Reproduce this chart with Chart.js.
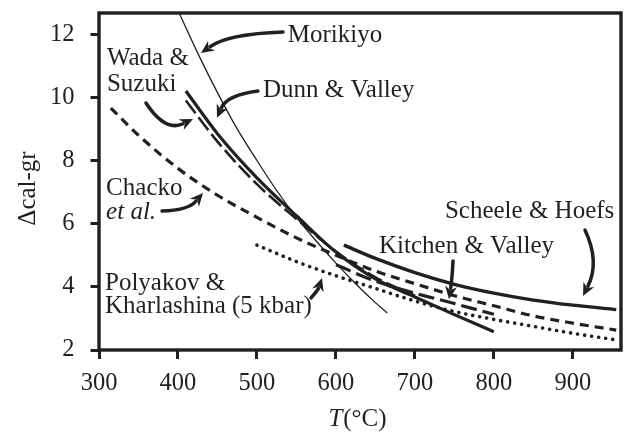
<!DOCTYPE html>
<html>
<head>
<meta charset="utf-8">
<script src="https://cdn.jsdelivr.net/npm/chart.js@4.4.1/dist/chart.umd.min.js"></script>
<style>
  html, body { margin: 0; padding: 0; background: #fff; }
  #wrap { width: 626px; height: 434px; }
</style>
</head>
<body>
<div id="wrap"><canvas id="c" width="626" height="434"></canvas></div>
<script>
const INK = '#231f20';
const SERIF = "'Liberation Serif', 'Times New Roman', serif";

// Axis ticks
const xTicks = [300, 400, 500, 600, 700, 800, 900];
const yTicks = [2, 4, 6, 8, 10, 12];

// Calcite–graphite carbon isotope fractionation calibrations (T in °C, Δ in ‰)
const morikiyoT = [400, 425, 450, 475, 500, 525, 550, 575, 600, 625, 650, 665];
const morikiyoD = [12.75, 11.4, 10.15, 9.0, 8.0, 7.05, 6.2, 5.45, 4.75, 4.1, 3.5, 3.17];

const dunnT = [410, 450, 500, 550, 600, 650, 700, 750, 800];
const dunnD = [10.2, 8.85, 7.45, 6.25, 5.1, 4.25, 3.68, 3.12, 2.58];

const wadaT = [410, 450, 500, 550, 600, 650, 700];
const wadaD = [9.9, 8.6, 7.25, 6.15, 5.12, 4.3, 3.72];

const chackoT = [315, 350, 400, 450, 500, 550, 600, 650, 700, 750, 800, 850, 900, 955];
const chackoD = [9.66, 8.8, 7.75, 6.9, 6.2, 5.55, 5.0, 4.5, 4.1, 3.72, 3.4, 3.08, 2.85, 2.63];

const scheeleT = [610, 650, 700, 750, 800, 850, 900, 955];
const scheeleD = [5.32, 4.9, 4.45, 4.08, 3.8, 3.58, 3.42, 3.28];

const kitchenT = [600, 650, 700, 750, 800];
const kitchenD = [4.7, 4.18, 3.8, 3.47, 3.13];

const polyakovT = [500, 550, 600, 650, 700, 750, 800, 850, 900, 955];
const polyakovD = [5.32, 4.8, 4.35, 3.95, 3.55, 3.22, 2.97, 2.75, 2.53, 2.32];

const pts = (xs, ys) => xs.map((x, i) => ({ x, y: ys[i] }));

function series(xs, ys, width, dash, cap) {
  return {
    data: pts(xs, ys),
    borderColor: INK,
    borderWidth: width,
    borderDash: dash || [],
    borderCapStyle: cap || 'butt',
    pointRadius: 0,
    fill: false,
    cubicInterpolationMode: 'monotone'
  };
}

// Curve labels anchored in data coordinates (left edge, baseline)
const notes = [
  { text: 'Morikiyo', t: 539, d: 11.75 },
  { text: 'Wada &', t: 310, d: 11.02 },
  { text: 'Suzuki', t: 310, d: 10.2 },
  { text: 'Dunn & Valley', t: 507.7, d: 10.01 },
  { text: 'Chacko', t: 309, d: 6.91 },
  { text: 'et al.', t: 309, d: 6.15, italic: true },
  { text: 'Scheele & Hoefs', t: 738, d: 6.18 },
  { text: 'Kitchen & Valley', t: 654.6, d: 5.07 },
  { text: 'Polyakov &', t: 307.6, d: 3.9 },
  { text: 'Kharlashina (5 kbar)', t: 307.6, d: 3.17 }
];

// Pointer arrows: tail, bend control and head, in data coordinates
const arrows = [
  { from: [533, 12.07], via: [463.4, 12.01], to: [429.2, 11.4] },
  { from: [501.3, 10.2], via: [462.1, 10.07], to: [449.4, 9.35] },
  { from: [359.5, 9.82], via: [383.6, 8.9], to: [419, 9.31] },
  { from: [379.8, 6.4], via: [412.7, 6.43], to: [431.7, 6.97] },
  { from: [568.5, 3.65], via: [577.3, 3.9], to: [582.4, 4.28] },
  { from: [748.3, 4.82], via: [747.0, 4.22], to: [743.2, 3.61] },
  { from: [915.4, 5.8], via: [934.4, 4.79], to: [912.9, 3.71] }
];

const decor = {
  id: 'decor',
  afterDatasetsDraw(chart) {
    const { ctx, chartArea: a, scales } = chart;
    const X = v => scales.x.getPixelForValue(v);
    const Y = v => scales.y.getPixelForValue(v);
    ctx.save();

    // plot frame
    ctx.strokeStyle = INK;
    ctx.lineWidth = 3.4;
    ctx.strokeRect(a.left, a.top, a.right - a.left, a.bottom - a.top);

    // labels
    ctx.fillStyle = INK;
    ctx.textBaseline = 'alphabetic';
    ctx.textAlign = 'left';
    notes.forEach(n => {
      ctx.font = (n.italic ? 'italic ' : '') + '25px ' + SERIF;
      ctx.fillText(n.text, X(n.t), Y(n.d));
    });

    // arrows
    arrows.forEach(ar => {
      const p0 = [X(ar.from[0]), Y(ar.from[1])];
      const p1 = [X(ar.via[0]), Y(ar.via[1])];
      const p2 = [X(ar.to[0]), Y(ar.to[1])];
      let dx = p2[0] - p1[0], dy = p2[1] - p1[1];
      const len = Math.hypot(dx, dy) || 1;
      dx /= len; dy /= len;
      const hl = 13, hw = 6;
      const base = [p2[0] - dx * (hl - 2), p2[1] - dy * (hl - 2)];
      ctx.lineWidth = 3.5;
      ctx.lineCap = 'round';
      ctx.beginPath();
      ctx.moveTo(p0[0], p0[1]);
      ctx.quadraticCurveTo(p1[0], p1[1], base[0], base[1]);
      ctx.stroke();
      ctx.beginPath();
      ctx.moveTo(p2[0], p2[1]);
      ctx.lineTo(p2[0] - dx * hl - dy * hw, p2[1] - dy * hl + dx * hw);
      ctx.lineTo(p2[0] - dx * (hl - 4), p2[1] - dy * (hl - 4));
      ctx.lineTo(p2[0] - dx * hl + dy * hw, p2[1] - dy * hl - dx * hw);
      ctx.closePath();
      ctx.fill();
    });

    // axis titles
    ctx.font = '25px ' + SERIF;
    ctx.save();
    ctx.translate(28, (a.top + a.bottom) / 2 + 7);
    ctx.rotate(-Math.PI / 2);
    ctx.textAlign = 'center';
    ctx.textBaseline = 'middle';
    ctx.fillText('\u0394cal-gr', 0, 0);
    ctx.restore();

    ctx.textBaseline = 'middle';
    ctx.textAlign = 'left';
    ctx.font = 'italic 25px ' + SERIF;
    const wT = ctx.measureText('T').width;
    ctx.font = '25px ' + SERIF;
    const wR = ctx.measureText('(\u00B0C)').width;
    const cx = (a.left + a.right) / 2 - 3;
    const x0 = cx - (wT + wR) / 2;
    const ty = 419;
    ctx.font = 'italic 25px ' + SERIF;
    ctx.fillText('T', x0, ty);
    ctx.font = '25px ' + SERIF;
    ctx.fillText('(\u00B0C)', x0 + wT + 1, ty);

    ctx.restore();
  }
};

new Chart(document.getElementById('c'), {
  type: 'line',
  data: {
    datasets: [
      series(morikiyoT, morikiyoD, 1.3),
      series(wadaT, wadaD, 2.6, [16, 5]),
      series(dunnT, dunnD, 3.2),
      series(chackoT, chackoD, 3.2, [9, 6]),
      series(scheeleT, scheeleD, 3.4),
      series(kitchenT, kitchenD, 3.2, [16, 6]),
      series(polyakovT, polyakovD, 3.6, [0.1, 7], 'round')
    ]
  },
  options: {
    responsive: false,
    animation: false,
    devicePixelRatio: 1,
    layout: { padding: { top: 13, right: 5, left: 0, bottom: 0 } },
    plugins: { legend: { display: false }, tooltip: { enabled: false } },
    scales: {
      x: {
        type: 'linear',
        min: 300,
        max: 961,
        afterFit: s => { s.height = 84; s.paddingLeft = 0; s.paddingRight = 0; },
        border: { display: false },
        grid: { drawOnChartArea: false, drawTicks: true, tickLength: 9, tickWidth: 3, tickColor: INK, color: INK },
        ticks: {
          stepSize: 100,
          includeBounds: false,
          autoSkip: false,
          maxRotation: 0,
          padding: 10,
          color: INK,
          font: { family: SERIF, size: 24.5 },
          callback: v => (xTicks.includes(v) ? String(v) : '')
        }
      },
      y: {
        type: 'linear',
        min: 2,
        max: 12.67,
        afterFit: s => { s.width = 99; s.paddingTop = 0; s.paddingBottom = 0; },
        border: { display: false },
        grid: { drawOnChartArea: false, drawTicks: true, tickLength: 8.5, tickWidth: 3, tickColor: INK, color: INK },
        ticks: {
          stepSize: 2,
          includeBounds: false,
          padding: 16,
          color: INK,
          font: { family: SERIF, size: 24.5 },
          callback: v => (yTicks.includes(v) ? String(v) : '')
        }
      }
    }
  },
  plugins: [decor]
});
</script>
</body>
</html>
